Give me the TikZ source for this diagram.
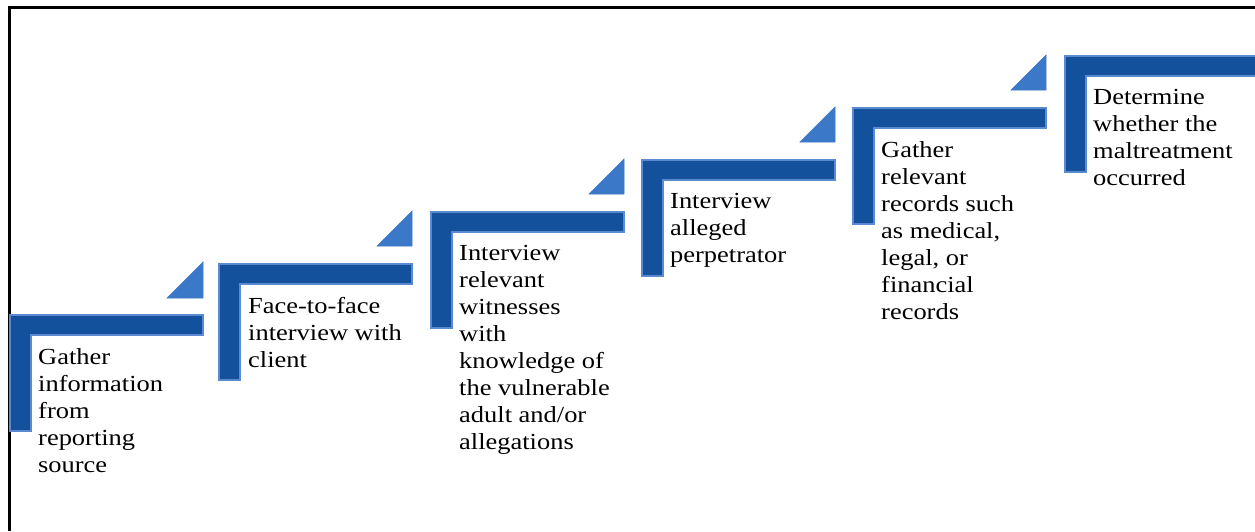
\documentclass[tikz,border=0pt]{standalone}
\usepackage{fontspec}
\setmainfont{Liberation Serif}[FakeStretch=1.15]
\usepackage{tikz}
\tikzstyle{stepbar} = [fill=db, draw=eb, line width=1.2pt]
\tikzstyle{steptri} = [fill=lb, draw=lb, line width=0.6pt]
\tikzstyle{steptext} = [anchor=north west, align=left, inner sep=0pt, font=\fontsize{23}{27}\selectfont]
\definecolor{db}{HTML}{13519C}
\definecolor{lb}{HTML}{3B78C7}
\definecolor{eb}{HTML}{5B8AD3}

\begin{document}
\begin{tikzpicture}[x=1pt,y=-1pt]
			\clip (0,0) rectangle (1255,531);
			\useasboundingbox (0,0) rectangle (1255,531);
			\draw[line width=2.5pt] (9.5,531) -- (9.5,7.5) -- (1255,7.5);
			% step 1
			\draw[stepbar] (10,315) -- (203,315) -- (203,335) -- (31,335) -- (31,431) -- (10,431) -- cycle;
			\draw[steptri] (167,298) -- (203,298) -- (203,262) -- cycle;
			\node[steptext] (s1) at (38,348.5) {Gather\\information\\from\\reporting\\source};
			% step 2
			\draw[stepbar] (219,264) -- (412,264) -- (412,284) -- (240,284) -- (240,380) -- (219,380) -- cycle;
			\draw[steptri] (377,246) -- (412,246) -- (412,211) -- cycle;
			\node[steptext] (s2) at (248,297.5) {Face-to-face\\interview with\\client};
			% step 3
			\draw[stepbar] (431,212) -- (624,212) -- (624,232) -- (452,232) -- (452,328) -- (431,328) -- cycle;
			\draw[steptri] (589,194) -- (624,194) -- (624,159) -- cycle;
			\node[steptext] (s3) at (459,245.5) {Interview\\relevant\\witnesses\\with\\knowledge of\\the vulnerable\\adult and/or\\allegations};
			% step 4
			\draw[stepbar] (642,160) -- (835,160) -- (835,180) -- (663,180) -- (663,276) -- (642,276) -- cycle;
			\draw[steptri] (800,142) -- (835,142) -- (835,107) -- cycle;
			\node[steptext] (s4) at (670,193.5) {Interview\\alleged\\perpetrator};
			% step 5
			\draw[stepbar] (853,108) -- (1046,108) -- (1046,128) -- (874,128) -- (874,224) -- (853,224) -- cycle;
			\draw[steptri] (1011,90) -- (1046,90) -- (1046,55) -- cycle;
			\node[steptext] (s5) at (881,141.5) {Gather\\relevant\\records such\\as medical,\\legal, or\\financial\\records};
			% step 6
			\draw[stepbar] (1065,56) -- (1258,56) -- (1258,76) -- (1086,76) -- (1086,172) -- (1065,172) -- cycle;
			\node[steptext] (s6) at (1093,89.5) {Determine\\whether the\\maltreatment\\occurred};
		\end{tikzpicture}
\end{document}
